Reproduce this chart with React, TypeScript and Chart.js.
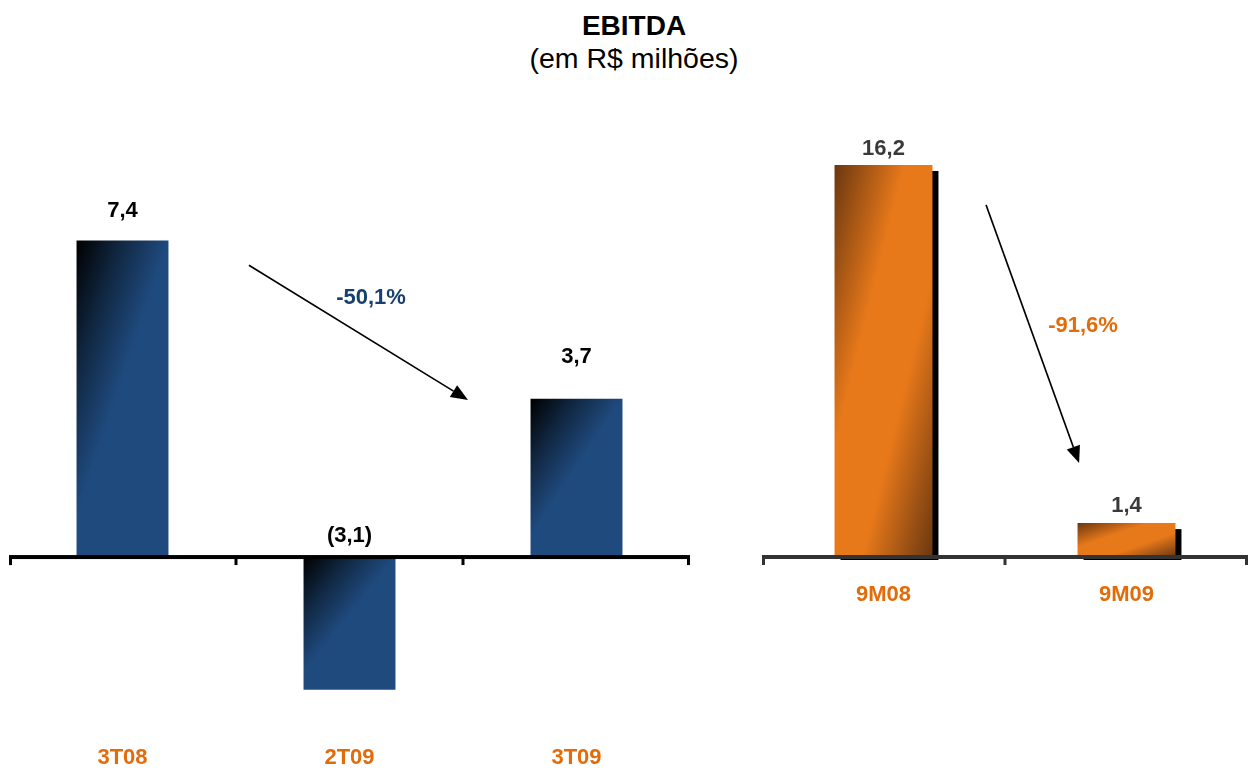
import React, { useEffect, useRef } from "react";
import { Chart, registerables } from "chart.js";

Chart.register(...registerables);

// ---- data ----
const quarterLabels = ["3T08", "2T09", "3T09"];
const quarterValues = [7.4, -3.1, 3.7];
const quarterValueText = ["7,4", "(3,1)", "3,7"];
const quarterChangeText = "-50,1%";

const periodLabels = ["9M08", "9M09"];
const periodValues = [16.2, 1.4];
const periodValueText = ["16,2", "1,4"];
const periodChangeText = "-91,6%";

// arrow / note anchors in data space [categoryIndex, value]
const quarterArrow = [[0.557, 6.82], [1.522, 3.67]];
const quarterNoteAt = [1.095, 6.05];
const periodArrow = [[0.422, 14.55], [0.805, 3.88]];
const periodNoteAt = [0.821, 9.55];

const FONT = "Arial, 'Liberation Sans', sans-serif";
const ORANGE_TXT = "#E36C0A";
const BLUE_TXT = "#17406E";

type Stop = [number, string];

function diagGradient(ctx: CanvasRenderingContext2D, l: number, t: number, ax: number, by: number, stops: Stop[]) {
  const n = ax * ax + by * by;
  const g = ctx.createLinearGradient(l, t, l + ax / n, t + by / n);
  stops.forEach(([o, c]) => g.addColorStop(o, c));
  return g;
}

function barGeom(chart: any, index: number, value: number, pct: number) {
  const x = chart.scales.x;
  const y = chart.scales.y;
  const n = chart.data.labels.length;
  const cw = (x.right - x.left) / n;
  const w = cw * pct;
  const cx = x.getPixelForValue(index);
  const py = y.getPixelForValue(value);
  const pb = y.getPixelForValue(0);
  return { l: cx - w / 2, w, top: Math.min(py, pb), h: Math.abs(pb - py), cx, py, pb };
}

function drawArrow(ctx: CanvasRenderingContext2D, x1: number, y1: number, x2: number, y2: number) {
  const ang = Math.atan2(y2 - y1, x2 - x1);
  const len = 17;
  const half = 7;
  const bx = x2 - len * Math.cos(ang);
  const by = y2 - len * Math.sin(ang);
  ctx.save();
  ctx.strokeStyle = "#000";
  ctx.lineWidth = 1.6;
  ctx.beginPath();
  ctx.moveTo(x1, y1);
  ctx.lineTo(bx, by);
  ctx.stroke();
  ctx.fillStyle = "#000";
  ctx.beginPath();
  ctx.moveTo(x2, y2);
  ctx.lineTo(bx + half * Math.sin(ang), by - half * Math.cos(ang));
  ctx.lineTo(bx - half * Math.sin(ang), by + half * Math.cos(ang));
  ctx.closePath();
  ctx.fill();
  ctx.restore();
}

interface PanelCfg {
  labels: string[];
  values: number[];
  valueText: string[];
  changeText: string;
  arrow: number[][];
  noteAt: number[];
  barPct: number;
  yMin: number;
  yMax: number;
  padding: { left: number; right: number; top: number; bottom: number };
  kind: "blue" | "orange";
  axisColor: string;
  valueColor: string;
  noteColor: string;
  labelGap: number[];
  catLabelDrop: number;
  shadow: boolean;
}

function makeConfig(p: PanelCfg): any {
  const fallback = p.kind === "blue" ? "#1F4A7E" : "#E8791A";
  const bg = (c: any) => {
    const chart = c.chart;
    if (!chart.chartArea || c.type !== "data" || !chart.scales.x) return fallback;
    const g = barGeom(chart, c.dataIndex, p.values[c.dataIndex], p.barPct);
    if (!(g.w > 0) || !(g.h > 0)) return fallback;
    if (p.kind === "blue") {
      return diagGradient(chart.ctx, g.l, g.top, 1 / g.w, 1 / (0.87 * g.h), [
        [0, "#000000"],
        [0.5, "#112843"],
        [1, "#1F4A7E"],
      ]);
    }
    return diagGradient(chart.ctx, g.l, g.top, 0.5 / g.w, 0.5 / g.h, [
      [0, "#6A3710"],
      [0.36, "#E8791A"],
      [0.64, "#E8791A"],
      [1, "#6A3710"],
    ]);
  };

  const shadowPlugin = {
    id: "barShadow",
    beforeDatasetsDraw(chart: any) {
      if (!p.shadow) return;
      const ctx = chart.ctx;
      ctx.save();
      ctx.fillStyle = "#000";
      p.values.forEach((v, i) => {
        const g = barGeom(chart, i, v, p.barPct);
        ctx.fillRect(g.l + 6, g.top + 6, g.w, g.h - 6 + 3);
      });
      ctx.restore();
    },
  };

  const decoPlugin = {
    id: "deco",
    afterDatasetsDraw(chart: any) {
      const ctx = chart.ctx;
      const x = chart.scales.x;
      const y = chart.scales.y;
      const zero = y.getPixelForValue(0);
      const n = p.labels.length;
      const cw = (x.right - x.left) / n;
      ctx.save();
      // axis line
      ctx.fillStyle = p.axisColor;
      ctx.fillRect(x.left, zero - 2, x.right - x.left, 4);
      for (let i = 0; i <= n; i++) {
        const tx = x.left + i * cw;
        const xx = Math.min(Math.max(tx - 1.5, x.left), x.right - 3);
        ctx.fillRect(xx, zero, 3, 8);
      }
      // value labels
      ctx.font = `bold 22px ${FONT}`;
      ctx.textAlign = "center";
      ctx.textBaseline = "middle";
      ctx.fillStyle = p.valueColor;
      p.values.forEach((v, i) => {
        const g = barGeom(chart, i, v, p.barPct);
        const anchor = v >= 0 ? g.py : g.pb;
        ctx.fillText(p.valueText[i], g.cx, anchor - p.labelGap[i]);
      });
      // category labels
      ctx.fillStyle = ORANGE_TXT;
      p.labels.forEach((lab, i) => {
        ctx.fillText(lab, x.getPixelForValue(i), zero + p.catLabelDrop);
      });
      // arrow
      const [a, b] = p.arrow;
      drawArrow(
        ctx,
        x.getPixelForValue(a[0]),
        y.getPixelForValue(a[1]),
        x.getPixelForValue(b[0]),
        y.getPixelForValue(b[1])
      );
      // change note
      ctx.fillStyle = p.noteColor;
      ctx.fillText(p.changeText, x.getPixelForValue(p.noteAt[0]), y.getPixelForValue(p.noteAt[1]));
      ctx.restore();
    },
  };

  return {
    type: "bar",
    data: {
      labels: p.labels,
      datasets: [
        {
          data: p.values,
          backgroundColor: bg,
          borderWidth: 0,
          barPercentage: p.barPct,
          categoryPercentage: 1,
        },
      ],
    },
    options: {
      responsive: false,
      animation: false,
      devicePixelRatio: 1,
      layout: { padding: p.padding },
      plugins: { legend: { display: false }, tooltip: { enabled: false }, title: { display: false } },
      scales: {
        x: { display: false },
        y: { display: false, min: p.yMin, max: p.yMax },
      },
    },
    plugins: [shadowPlugin, decoPlugin],
  };
}

const quarterPanel: PanelCfg = {
  labels: quarterLabels,
  values: quarterValues,
  valueText: quarterValueText,
  changeText: quarterChangeText,
  arrow: quarterArrow,
  noteAt: quarterNoteAt,
  barPct: 0.405,
  yMin: -3.5,
  yMax: 9,
  padding: { left: 9, right: 10, top: 172, bottom: 62.2 },
  kind: "blue",
  axisColor: "#000000",
  valueColor: "#000000",
  noteColor: BLUE_TXT,
  labelGap: [30, 21, 42],
  catLabelDrop: 201,
  shadow: false,
};

const periodPanel: PanelCfg = {
  labels: periodLabels,
  values: periodValues,
  valueText: periodValueText,
  changeText: periodChangeText,
  arrow: periodArrow,
  noteAt: periodNoteAt,
  barPct: 0.403,
  yMin: -0.5,
  yMax: 18.5,
  padding: { left: 62, right: 2, top: 109.3, bottom: 199.9 },
  kind: "orange",
  axisColor: "#333333",
  valueColor: "#3A3A3A",
  noteColor: ORANGE_TXT,
  labelGap: [16, 17],
  catLabelDrop: 38,
  shadow: true,
};

function Panel({ cfg, left, width }: { cfg: PanelCfg; left: number; width: number }) {
  const ref = useRef<HTMLCanvasElement | null>(null);
  useEffect(() => {
    if (!ref.current) return;
    const chart = new Chart(ref.current, makeConfig(cfg));
    return () => chart.destroy();
  }, [cfg]);
  return (
    <canvas
      ref={ref}
      width={width}
      height={769}
      style={{ position: "absolute", left, top: 0, width, height: 769 }}
    />
  );
}

export default function App() {
  return (
    <div
      style={{
        position: "absolute",
        left: 0,
        top: 0,
        width: 1250,
        height: 769,
        background: "#fff",
        overflow: "hidden",
      }}
    >
      <div
        style={{
          position: "absolute",
          left: 0,
          top: 9,
          width: 1268,
          textAlign: "center",
          fontFamily: FONT,
          color: "#000",
          lineHeight: "33px",
        }}
      >
        <div style={{ fontWeight: "bold", fontSize: 28 }}>EBITDA</div>
        <div style={{ fontSize: 28.5 }}>(em R$ milhões)</div>
      </div>
      <Panel cfg={quarterPanel} left={0} width={700} />
      <Panel cfg={periodPanel} left={700} width={550} />
    </div>
  );
}
